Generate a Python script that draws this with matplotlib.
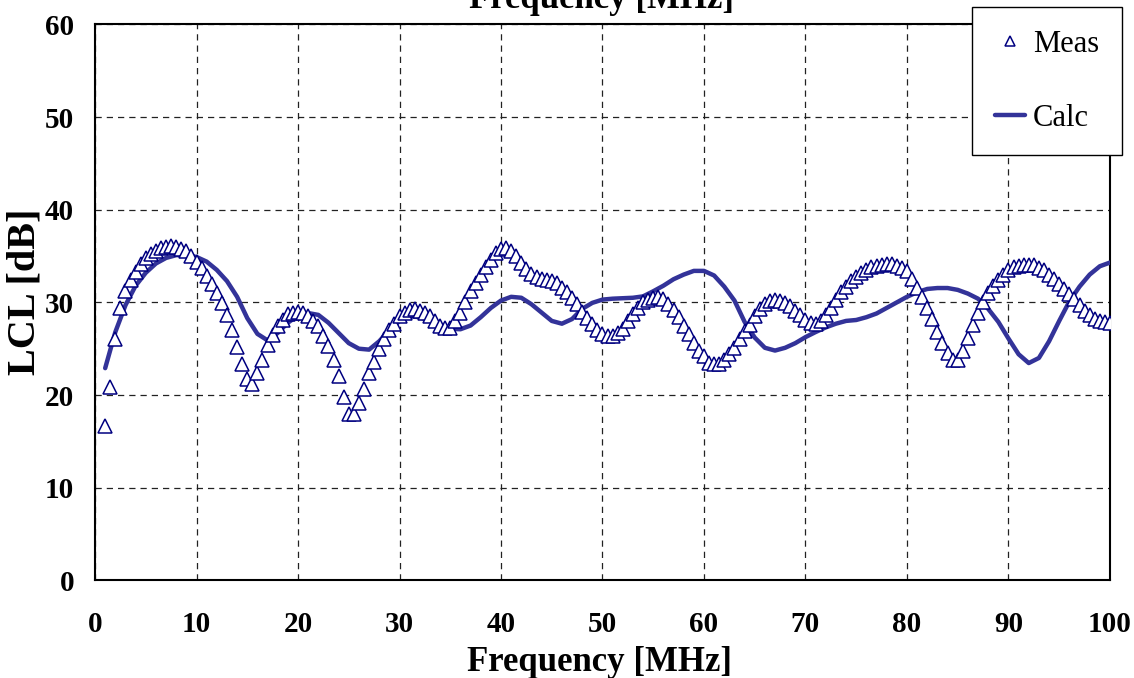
import numpy as np
import matplotlib

matplotlib.use("Agg")
import matplotlib.pyplot as plt
from matplotlib import rcParams

rcParams.update({
    "font.family": "serif",
    "font.serif": ["Liberation Serif", "Times New Roman", "DejaVu Serif"],
})

MEAS_COL = "#000080"
CALC_COL = "#333399"

# measured sweep: 1 .. 100 MHz, 0.5 MHz step
meas_freq = np.arange(1.0, 100.01, 0.5)
meas_lcl = [
    16.7, 20.9, 26.1, 29.4, 31.2, 32.4, 33.3, 34.1, 34.8, 35.25,
    35.6, 35.9, 36.0, 36.05, 35.95, 35.8, 35.5, 35.0, 34.4, 33.7,
    32.9, 32.0, 31.0, 29.9, 28.6, 27.0, 25.2, 23.3, 21.7, 21.2,
    22.4, 23.8, 25.4, 26.5, 27.4, 28.1, 28.7, 28.9, 29.0, 28.85,
    28.5, 27.95, 27.4, 26.4, 25.3, 23.8, 22.0, 19.8, 18.0, 17.9,
    19.1, 20.6, 22.4, 23.6, 25.0, 26.0, 27.0, 27.7, 28.5, 28.9,
    29.2, 29.3, 29.1, 28.85, 28.5, 27.95, 27.5, 27.2, 27.2, 27.95,
    28.9, 30.0, 31.2, 32.1, 33.0, 33.8, 34.6, 35.3, 35.75, 35.85,
    35.6, 35.0, 34.2, 33.6, 33.05, 32.7, 32.55, 32.45, 32.3, 32.1,
    31.6, 31.1, 30.5, 29.8, 29.0, 28.3, 27.7, 27.05, 26.6, 26.4,
    26.4, 26.7, 27.15, 27.95, 28.7, 29.4, 30.0, 30.3, 30.5, 30.55,
    30.35, 29.85, 29.2, 28.4, 27.5, 26.6, 25.6, 24.8, 24.2, 23.5,
    23.3, 23.35, 23.8, 24.4, 25.1, 26.0, 26.9, 27.6, 28.5, 29.3,
    29.8, 30.1, 30.3, 30.2, 29.95, 29.6, 29.1, 28.6, 28.1, 27.8,
    27.7, 27.95, 28.6, 29.4, 30.3, 31.1, 31.7, 32.3, 32.7, 33.2,
    33.5, 33.8, 33.9, 34.0, 34.1, 34.1, 33.95, 33.7, 33.35, 32.5,
    31.6, 30.6, 29.4, 28.2, 26.8, 25.6, 24.5, 23.8, 23.8, 24.8,
    26.15, 27.6, 28.85, 30.0, 31.0, 31.8, 32.45, 33.0, 33.5, 33.8,
    33.95, 34.05, 34.05, 34.0, 33.75, 33.45, 33.0, 32.5, 32.0, 31.4,
    30.9, 30.35, 29.7, 29.1, 28.6, 28.25, 27.95, 27.85, 27.8,
]

# calculated: 1 .. 100 MHz, 1 MHz step
calc_freq = np.arange(1.0, 100.01, 1.0)
calc_lcl = [
    22.9, 26.8, 29.7, 31.8, 33.2, 34.2, 34.8, 35.1, 35.1, 34.9,
    34.4, 33.5, 32.3, 30.6, 28.3, 26.6, 25.9, 26.7, 27.8, 28.6,
    28.85, 28.65, 27.8, 26.7, 25.6, 25.0, 24.9, 25.8, 27.0, 28.0,
    28.5, 28.4, 28.0, 27.5, 27.15, 27.1, 27.5, 28.4, 29.4, 30.2,
    30.6, 30.5, 29.8, 28.9, 28.0, 27.7, 28.2, 29.3, 29.95, 30.3,
    30.4, 30.45, 30.5, 30.65, 31.2, 31.8, 32.5, 33.0, 33.4, 33.4,
    32.9, 31.7, 30.2, 27.9, 26.2, 25.1, 24.8, 25.1, 25.6, 26.25,
    26.8, 27.3, 27.7, 28.0, 28.1, 28.4, 28.8, 29.4, 30.0, 30.6,
    31.1, 31.45, 31.55, 31.55, 31.35, 30.95, 30.4, 29.3, 27.9, 26.1,
    24.4, 23.45, 24.0, 25.8, 28.0, 30.1, 31.7, 33.0, 33.9, 34.3,
]

x_ticks = list(range(0, 101, 10))
y_ticks = list(range(0, 61, 10))

fig = plt.figure(figsize=(11.34, 6.78), dpi=100)
ax = fig.add_axes([0.0838, 0.1441, 0.8950, 0.8198])

ax.plot(calc_freq, calc_lcl, "-", color=CALC_COL, lw=3.2, zorder=3,
        solid_capstyle="round", solid_joinstyle="round", label="Calc")
ax.plot(meas_freq, meas_lcl, "^", ms=9.5, mfc="white", mec=MEAS_COL,
        mew=1.1, ls="none", zorder=4, label="Meas")

ax.set_xlim(0, 100)
ax.set_ylim(0, 60)
ax.set_xticks(x_ticks)
ax.set_yticks(y_ticks)
ax.grid(True, color="#222222", lw=0.9, ls=(0, (5, 4)))
ax.set_axisbelow(True)
ax.tick_params(length=0, labelsize=21)
ax.tick_params(axis="x", pad=22)
ax.tick_params(axis="y", pad=15)
for lab in ax.get_xticklabels() + ax.get_yticklabels():
    lab.set_fontweight("bold")
for s in ax.spines.values():
    s.set_linewidth(1.5)
    s.set_color("black")

ax.set_xlabel("Frequency [MHz]", fontsize=25, fontweight="bold")
ax.set_ylabel("LCL [dB]", fontsize=29, fontweight="bold")
ax.xaxis.set_label_coords(0.497, -0.118)
ax.yaxis.set_label_coords(-0.051, 0.52)

# title sits half off the top edge
fig.text(0.53, 1.0, "Frequency [MHz]", ha="center", va="center",
         fontsize=25, fontweight="bold")

h, l = ax.get_legend_handles_labels()
leg = ax.legend(h[::-1], l[::-1], loc="upper left",
                bbox_to_anchor=(972 / 1134, 1 - 7 / 678),
                bbox_transform=fig.transFigure,
                fontsize=22, frameon=True, fancybox=False,
                edgecolor="black", framealpha=1, borderpad=0.74,
                labelspacing=1.48, handlelength=1.0, handletextpad=0.25,
                borderaxespad=0)
leg.get_frame().set_linewidth(1.0)
leg.legend_handles[0].set_markersize(7)
leg.set_zorder(10)

fig.savefig("out.png", dpi=100)
